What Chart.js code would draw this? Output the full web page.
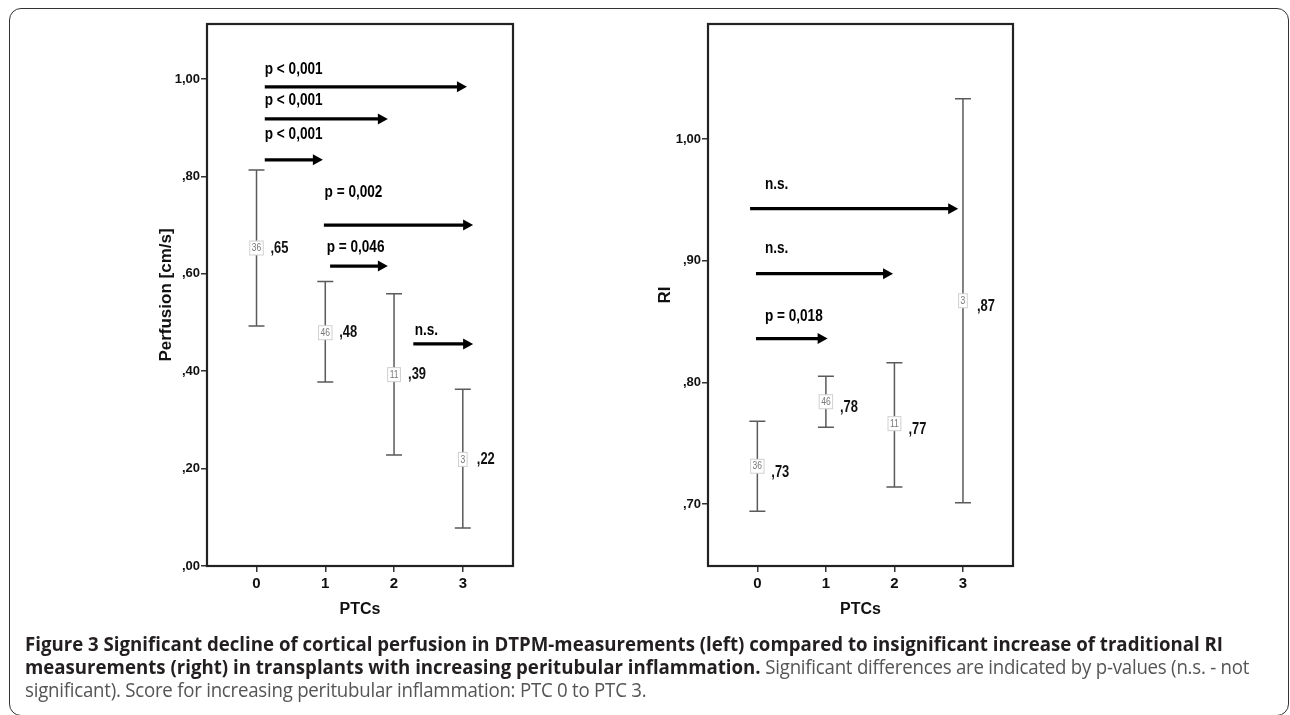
<!DOCTYPE html>
<html>
<head>
<meta charset="utf-8">
<script src="https://cdn.jsdelivr.net/npm/chart.js@4.4.1/dist/chart.umd.min.js"></script>
<style>
  body { margin: 0; width: 1290px; height: 715px; overflow: hidden; background: #fff; position: relative; }
  #marco { position: absolute; left: 9px; top: 8px; width: 1280px; height: 708px; border: 1.5px solid #333; border-radius: 12px; box-sizing: border-box; }
  #graficoIzq { position: absolute; left: 0; top: 0; }
  #graficoDer { position: absolute; left: 640px; top: 0; }
  #leyenda { position: absolute; left: 25px; top: 632px; white-space: nowrap; font-family: 'Open Sans', sans-serif; font-size: 20px; line-height: 23px; color: #555; letter-spacing: -0.25px; transform-origin: 0 0; }
  #leyenda b { color: #231f20; font-weight: 700; letter-spacing: 0; }
</style>
</head>
<body>
<div id="marco"></div>
<canvas id="graficoIzq" width="640" height="640"></canvas>
<canvas id="graficoDer" width="650" height="640"></canvas>
<div id="leyenda"><span id="linea1"><b>Figure 3 Significant decline of cortical perfusion in DTPM-measurements (left) compared to insignificant increase of traditional RI</b></span><br><b>measurements (right) in transplants with increasing peritubular inflammation.</b> Significant differences are indicated by p-values (n.s. - not<br>significant). Score for increasing peritubular inflammation: PTC 0 to PTC 3.</div>
<script>
// Datos: categorías PTC
const categorias = [0, 1, 2, 3];
const casos = [36, 46, 11, 3];

// Perfusión [cm/s]: media e intervalo
const perfusionMedia = [0.653, 0.479, 0.393, 0.219];
const perfusionBajo = [0.493, 0.378, 0.228, 0.078];
const perfusionAlto = [0.813, 0.584, 0.559, 0.363];
const perfusionTicks = [0, 0.2, 0.4, 0.6, 0.8, 1.0];

// RI: media e intervalo
const riMedia = [0.731, 0.784, 0.766, 0.867];
const riBajo = [0.694, 0.763, 0.714, 0.701];
const riAlto = [0.768, 0.805, 0.816, 1.033];
const riTicks = [0.7, 0.8, 0.9, 1.0];

// Flechas de comparación (en unidades de los ejes)
const perfusionFlechaDesde = [0.12, 0.12, 0.12, 0.98, 1.07, 2.28];
const perfusionFlechaHasta = [3.06, 1.91, 0.965, 3.15, 1.91, 3.15];
const perfusionFlechaY = [0.984, 0.918, 0.834, 0.700, 0.616, 0.456];
const perfusionTexto = ['p < 0,001', 'p < 0,001', 'p < 0,001', 'p = 0,002', 'p = 0,046', 'n.s.'];
const perfusionTextoX = [0.12, 0.12, 0.12, 0.99, 1.02, 2.30];
const perfusionTextoY = [1.019, 0.955, 0.885, 0.766, 0.653, 0.483];

const riFlechaDesde = [-0.106, -0.02, -0.02];
const riFlechaHasta = [2.93, 1.98, 1.025];
const riFlechaY = [0.9427, 0.8893, 0.8359];
const riTexto = ['n.s.', 'n.s.', 'p = 0,018'];
const riTextoX = [0.11, 0.11, 0.11];
const riTextoY = [0.9625, 0.9096, 0.8543];

const fuente = "'Liberation Sans', Arial, sans-serif";

function formatoComa(v) {
    const s = v.toFixed(2).replace('.', ',');
    return s.startsWith('0') ? s.slice(1) : s;
}

// texto comprimido en horizontal (como la salida de SPSS)
function textoAngosto(ctx, t, x, y, escala) {
    ctx.save();
    ctx.translate(x, y);
    ctx.scale(escala, 1);
    ctx.fillText(t, 0, 0);
    ctx.restore();
}

// Dibuja barras de error, cajas con N, etiquetas, flechas y marco
function pluginMarcas(datos) {
    return {
        id: 'marcas',
        beforeDatasetsDraw(chart) {
            const { ctx, scales: { x, y } } = chart;
            ctx.save();
            ctx.strokeStyle = '#5a5a5a';
            ctx.lineWidth = 1.5;
            categorias.forEach((c, i) => {
                const px = x.getPixelForValue(c);
                const pBajo = y.getPixelForValue(datos.bajo[i]);
                const pAlto = y.getPixelForValue(datos.alto[i]);
                ctx.beginPath();
                ctx.moveTo(px, pBajo); ctx.lineTo(px, pAlto);
                ctx.moveTo(px - 8, pBajo); ctx.lineTo(px + 8, pBajo);
                ctx.moveTo(px - 8, pAlto); ctx.lineTo(px + 8, pAlto);
                ctx.stroke();
            });
            ctx.restore();
        },
        afterDatasetsDraw(chart) {
            const { ctx, scales: { x, y } } = chart;
            ctx.save();
            // cajas con N
            ctx.font = '10px ' + fuente;
            ctx.textAlign = 'center';
            ctx.textBaseline = 'middle';
            categorias.forEach((c, i) => {
                const px = x.getPixelForValue(c);
                const py = y.getPixelForValue(datos.media[i]);
                const txt = String(casos[i]);
                const ancho = ctx.measureText(txt).width * 0.85 + 4;
                ctx.fillStyle = '#fff';
                ctx.fillRect(px - ancho / 2, py - 7, ancho, 14);
                ctx.strokeStyle = '#d0d0d0';
                ctx.lineWidth = 1;
                ctx.strokeRect(px - ancho / 2, py - 7, ancho, 14);
                ctx.fillStyle = '#777';
                textoAngosto(ctx, txt, px, py + 0.5, 0.85);
            });
            // etiquetas de la media
            ctx.font = 'bold 17px ' + fuente;
            ctx.textAlign = 'left';
            ctx.fillStyle = '#111';
            categorias.forEach((c, i) => {
                const px = x.getPixelForValue(c);
                const py = y.getPixelForValue(datos.media[i]);
                textoAngosto(ctx, formatoComa(datos.media[i]), px + 14, py + datos.desplazamiento, 0.76);
            });
            // flechas
            ctx.strokeStyle = '#000';
            ctx.fillStyle = '#000';
            ctx.lineWidth = 3.2;
            datos.desde.forEach((d, i) => {
                const x0 = x.getPixelForValue(d);
                const x1 = x.getPixelForValue(datos.hasta[i]);
                const py = y.getPixelForValue(datos.flechaY[i]);
                ctx.beginPath();
                ctx.moveTo(x0, py); ctx.lineTo(x1 - 6, py);
                ctx.stroke();
                ctx.beginPath();
                ctx.moveTo(x1, py);
                ctx.lineTo(x1 - 10, py - 5.5);
                ctx.lineTo(x1 - 10, py + 5.5);
                ctx.closePath();
                ctx.fill();
            });
            // textos de significancia
            ctx.font = 'bold 16px ' + fuente;
            ctx.textBaseline = 'middle';
            datos.texto.forEach((t, i) => {
                textoAngosto(ctx, t, x.getPixelForValue(datos.textoX[i]), y.getPixelForValue(datos.textoY[i]), 0.85);
            });
            ctx.restore();
        },
        afterDraw(chart) {
            const { ctx, chartArea: a } = chart;
            ctx.save();
            ctx.strokeStyle = '#222';
            ctx.lineWidth = 2.2;
            ctx.strokeRect(a.left, a.top, a.right - a.left, a.bottom - a.top);
            ctx.restore();
        }
    };
}

function crearGrafico(idCanvas, cfg) {
    return new Chart(document.getElementById(idCanvas), {
        type: 'scatter',
        data: {
            datasets: [{
                data: cfg.media.map((m, i) => ({ x: categorias[i], y: m })),
                pointRadius: 0,
                showLine: false
            }]
        },
        options: {
            responsive: false,
            animation: false,
            events: [],
            layout: { padding: { left: 0, top: 24, right: cfg.derecha, bottom: 0 } },
            plugins: { legend: { display: false }, tooltip: { enabled: false } },
            scales: {
                x: {
                    type: 'linear', min: -0.72, max: 3.73,
                    afterBuildTicks: s => { s.ticks = categorias.map(v => ({ value: v })); },
                    afterFit: s => { s.height = 74; },
                    ticks: { callback: v => String(v), color: '#111', padding: 3, autoSkip: false, maxRotation: 0,
                        font: { family: fuente, size: 15, weight: 'bold' } },
                    grid: { drawOnChartArea: false, tickLength: 6, color: '#333', lineWidth: 1.5 },
                    border: { display: false },
                    title: { display: true, text: 'PTCs', color: '#111', padding: { top: 0, bottom: 21 },
                        font: { family: fuente, size: 16, weight: 'bold' } }
                },
                y: {
                    min: cfg.min, max: cfg.max,
                    afterBuildTicks: s => { s.ticks = cfg.ticks.map(v => ({ value: v })); },
                    afterFit: s => { s.width = cfg.anchoEje; },
                    ticks: { callback: v => formatoComa(v), color: '#111', padding: 1,
                        font: { family: fuente, size: 13, weight: 'bold' } },
                    grid: { drawOnChartArea: false, tickLength: 6, color: '#333', lineWidth: 1.5 },
                    border: { display: false },
                    title: { display: true, text: cfg.titulo, color: '#111', padding: { top: cfg.tituloPad, bottom: 0 },
                        font: { family: fuente, size: 17, weight: 'bold' } }
                }
            }
        },
        plugins: [pluginMarcas(cfg)]
    });
}

crearGrafico('graficoIzq', {
    media: perfusionMedia, bajo: perfusionBajo, alto: perfusionAlto, ticks: perfusionTicks,
    min: 0, max: 1.113, titulo: 'Perfusion [cm/s]', anchoEje: 207, tituloPad: 156, derecha: 127,
    desde: perfusionFlechaDesde, hasta: perfusionFlechaHasta, flechaY: perfusionFlechaY,
    texto: perfusionTexto, textoX: perfusionTextoX, textoY: perfusionTextoY, desplazamiento: 0
});

crearGrafico('graficoDer', {
    media: riMedia, bajo: riBajo, alto: riAlto, ticks: riTicks,
    min: 0.649, max: 1.0945, titulo: 'RI', anchoEje: 68, tituloPad: 15, derecha: 277,
    desde: riFlechaDesde, hasta: riFlechaHasta, flechaY: riFlechaY,
    texto: riTexto, textoX: riTextoX, textoY: riTextoY, desplazamiento: 6
});

// ajustar el ancho de la leyenda
const leyenda = document.getElementById('leyenda');
const anchoLinea1 = document.getElementById('linea1').getBoundingClientRect().width;
leyenda.style.transform = 'scaleX(' + (1198 / anchoLinea1) + ')';
</script>
</body>
</html>
